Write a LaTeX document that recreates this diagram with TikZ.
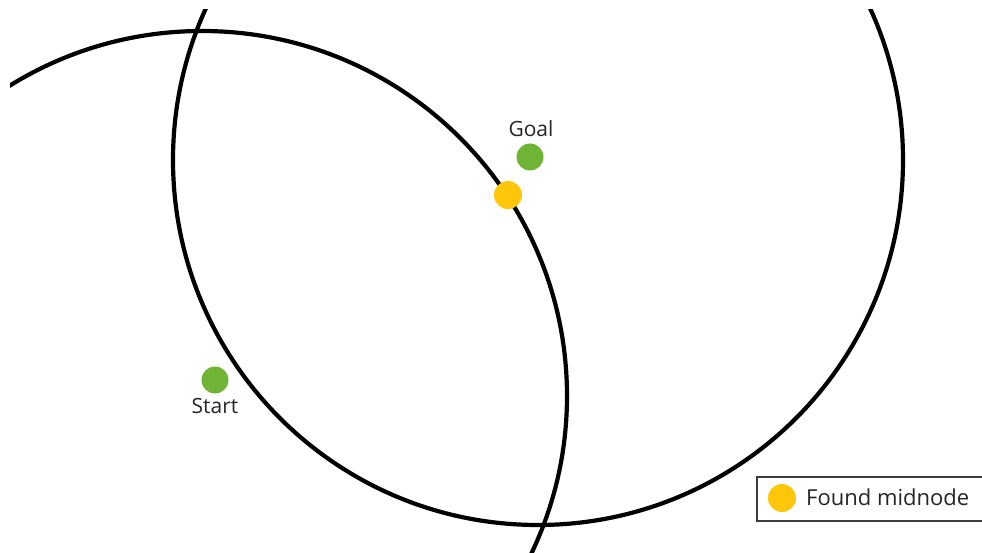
\documentclass[tikz,border=0pt]{standalone}
\usepackage{fontspec}
\setmainfont{Open Sans}
\definecolor{dotgreen}{RGB}{112,180,54}
\definecolor{dotyellow}{RGB}{255,198,10}
\definecolor{boxgray}{RGB}{60,60,60}
\begin{document}
\begin{tikzpicture}[x=1pt,y=-1pt,
  ring/.style={line width=4.2pt,draw=black},
  gdot/.style={circle,fill=dotgreen,inner sep=0pt,minimum size=27pt},
  ydot/.style={circle,fill=dotyellow,inner sep=0pt,minimum size=28pt},
  lbl/.style={font=\fontsize{21}{24}\selectfont,text=black!85,inner sep=0pt}]
\useasboundingbox (0,0) rectangle (982,553);
\fill[white] (0,0) rectangle (982,553);
\coordinate (c1) at (202,396);
\coordinate (c2) at (538,160);
\begin{scope}
  \clip (10,10) rectangle (982,553);
  \draw[ring] (c1) circle (365);
  \draw[ring] (c2) circle (365);
\end{scope}
\node[gdot] (goal) at (530,157) {};
\node[lbl,anchor=base] (goaltxt) at (531,137) {Goal};
\node[gdot] (start) at (215,380) {};
\node[lbl,anchor=base] (starttxt) at (215,413) {Start};
\node[ydot] (mid) at (508,195) {};
% legend
\draw[boxgray,line width=2.2pt] (990,477) -- (757,477) -- (757,521) -- (990,521);
\node[ydot] (legdot) at (782,498) {};
\node[lbl,anchor=base west,font=\fontsize{22}{25}\selectfont] (legtxt) at (806,505) {Found midnode};
\end{tikzpicture}
\end{document}
